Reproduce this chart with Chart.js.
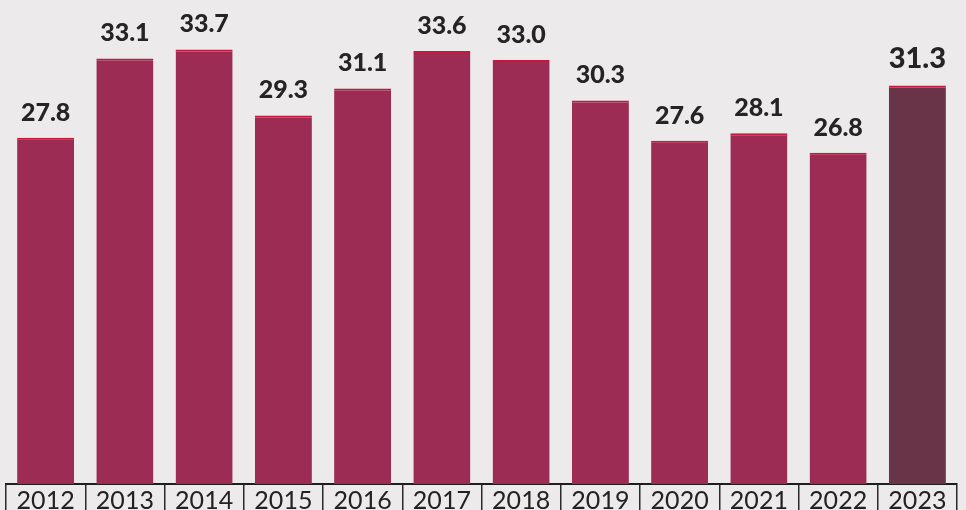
<!DOCTYPE html>
<html>
<head>
<meta charset="utf-8">
<script src="https://cdn.jsdelivr.net/npm/chart.js@4.4.1/dist/chart.umd.min.js"></script>
<style>
  html, body { margin: 0; padding: 0; background: #eceaeb; }
  #wrap { width: 966px; height: 510px; }
</style>
</head>
<body>
<div id="wrap"><canvas id="grafico"></canvas></div>
<script>
// datos
const anios = ['2012','2013','2014','2015','2016','2017','2018','2019','2020','2021','2022','2023'];
const valores = [27.8, 33.1, 33.7, 29.3, 31.1, 33.6, 33.0, 30.3, 27.6, 28.1, 26.8, 31.3];
const etiquetas = ['27.8','33.1','33.7','29.3','31.1','33.6','33.0','30.3','27.6','28.1','26.8','31.3'];

const colorBarra = '#9c2c54';
const colorUltima = '#6a3448';
const colores = valores.map((v, i) => i === valores.length - 1 ? colorUltima : colorBarra);

// fondo tipo papel
const fondo = {
  id: 'fondo',
  beforeDraw(chart) {
    const c = chart.ctx;
    c.save();
    c.fillStyle = '#eceaeb';
    c.fillRect(0, 0, chart.width, chart.height);
    c.restore();
  }
};

// valores encima de cada barra
const valoresArriba = {
  id: 'valoresArriba',
  afterDatasetsDraw(chart) {
    const c = chart.ctx;
    const meta = chart.getDatasetMeta(0);
    c.save();
    c.textAlign = 'center';
    c.textBaseline = 'alphabetic';
    c.fillStyle = '#242424';
    meta.data.forEach((bar, i) => {
      const ultima = i === meta.data.length - 1;
      c.font = (ultima ? '900 29px' : '900 25px') + ' Lato, sans-serif';
      c.fillText(etiquetas[i], bar.x, bar.y - 17);
    });
    c.restore();
  }
};

new Chart(document.getElementById('grafico'), {
  type: 'bar',
  data: {
    labels: anios,
    datasets: [{
      data: valores,
      backgroundColor: colores,
      borderColor: '#c8163f',
      borderWidth: { top: 2, left: 0, right: 0, bottom: 0 },
      borderSkipped: 'bottom',
      barPercentage: 0.72,
      categoryPercentage: 1
    }]
  },
  options: {
    responsive: true,
    maintainAspectRatio: false,
    animation: false,
    layout: { padding: { left: 6, right: 9, top: 0, bottom: 0 } },
    plugins: { legend: { display: false }, tooltip: { enabled: false } },
    scales: {
      y: { display: false, min: 4.7, max: 37 },
      x: {
        afterFit(scale) { scale.height = 26; },
        border: { display: true, color: '#1e1e1e', width: 2 },
        grid: {
          offset: true,
          drawOnChartArea: false,
          drawTicks: true,
          tickLength: 26,
          color: '#2a2a2a',
          lineWidth: 1.5
        },
        ticks: {
          padding: -24,
          color: '#222',
          font: { family: 'Lato, sans-serif', size: 25 }
        }
      }
    }
  },
  plugins: [fondo, valoresArriba]
});
</script>
</body>
</html>
